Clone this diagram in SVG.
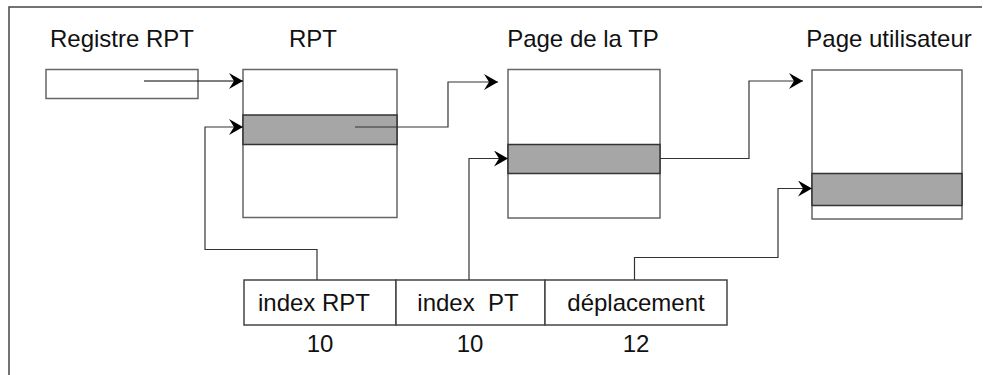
<svg xmlns="http://www.w3.org/2000/svg" width="986" height="375" viewBox="0 0 986 375">
<style>
text{font-family:"Liberation Sans",Arial,sans-serif;font-size:24px;fill:#111;text-anchor:middle}
.box{fill:#fff;stroke:#666;stroke-width:1.5}
.band{fill:#a6a6a6;stroke:#333;stroke-width:1.5}
.cell{fill:#fff;stroke:#444;stroke-width:1.5}
.con{fill:none;stroke:#333;stroke-width:1.2}
.frame{fill:none;stroke:#444;stroke-width:1.5}
</style>
<defs>
<marker id="arr" markerUnits="userSpaceOnUse" markerWidth="16" markerHeight="20" refX="14" refY="8" orient="auto">
<path d="M0,0 L14,8 L0,16 L5,8 z" fill="#000"/>
</marker>
</defs>
<path class="frame" d="M9,375 V7 H982"/>
<g id="registre">
<rect class="box" x="46" y="69.5" width="152" height="29"/>
<text x="122" y="47">Registre RPT</text>
</g>
<g id="rpt">
<rect class="box" x="243" y="69.5" width="154" height="148"/>
<rect class="band" x="243" y="115" width="154" height="29.5"/>
<text x="313" y="47">RPT</text>
</g>
<g id="pagetp">
<rect class="box" x="508" y="69.5" width="152" height="148.5"/>
<rect class="band" x="508" y="144.5" width="152" height="29"/>
<text x="583" y="47">Page de la TP</text>
</g>
<g id="pageuser">
<rect class="box" x="812" y="70" width="150" height="149"/>
<rect class="band" x="812" y="173.5" width="150" height="32"/>
<text x="889" y="47">Page utilisateur</text>
</g>
<g id="adresse">
<rect class="cell" x="244" y="280" width="152" height="45"/>
<rect class="cell" x="396" y="280" width="149" height="45"/>
<rect class="cell" x="545" y="280" width="182" height="45"/>
<text x="314" y="311">index RPT</text>
<text x="468" y="311" xml:space="preserve" style="white-space:pre">index  PT</text>
<text x="636" y="311">déplacement</text>
<text x="320" y="352">10</text>
<text x="470" y="352">10</text>
<text x="636" y="352">12</text>
</g>
<g id="connectors">
<path class="con" style="stroke:#000" d="M144,81 H243" marker-end="url(#arr)"/>
<path class="con" d="M317,280 V249.5 H205 V127 H243" marker-end="url(#arr)"/>
<path class="con" d="M355,127 H448 V82 H498" marker-end="url(#arr)"/>
<path class="con" d="M469,280 V158.5 H508" marker-end="url(#arr)"/>
<path class="con" d="M660,158.5 H749 V81 H803" marker-end="url(#arr)"/>
<path class="con" d="M634.5,280 V257.5 H778 V188.5 H812" marker-end="url(#arr)"/>
</g>
</svg>
